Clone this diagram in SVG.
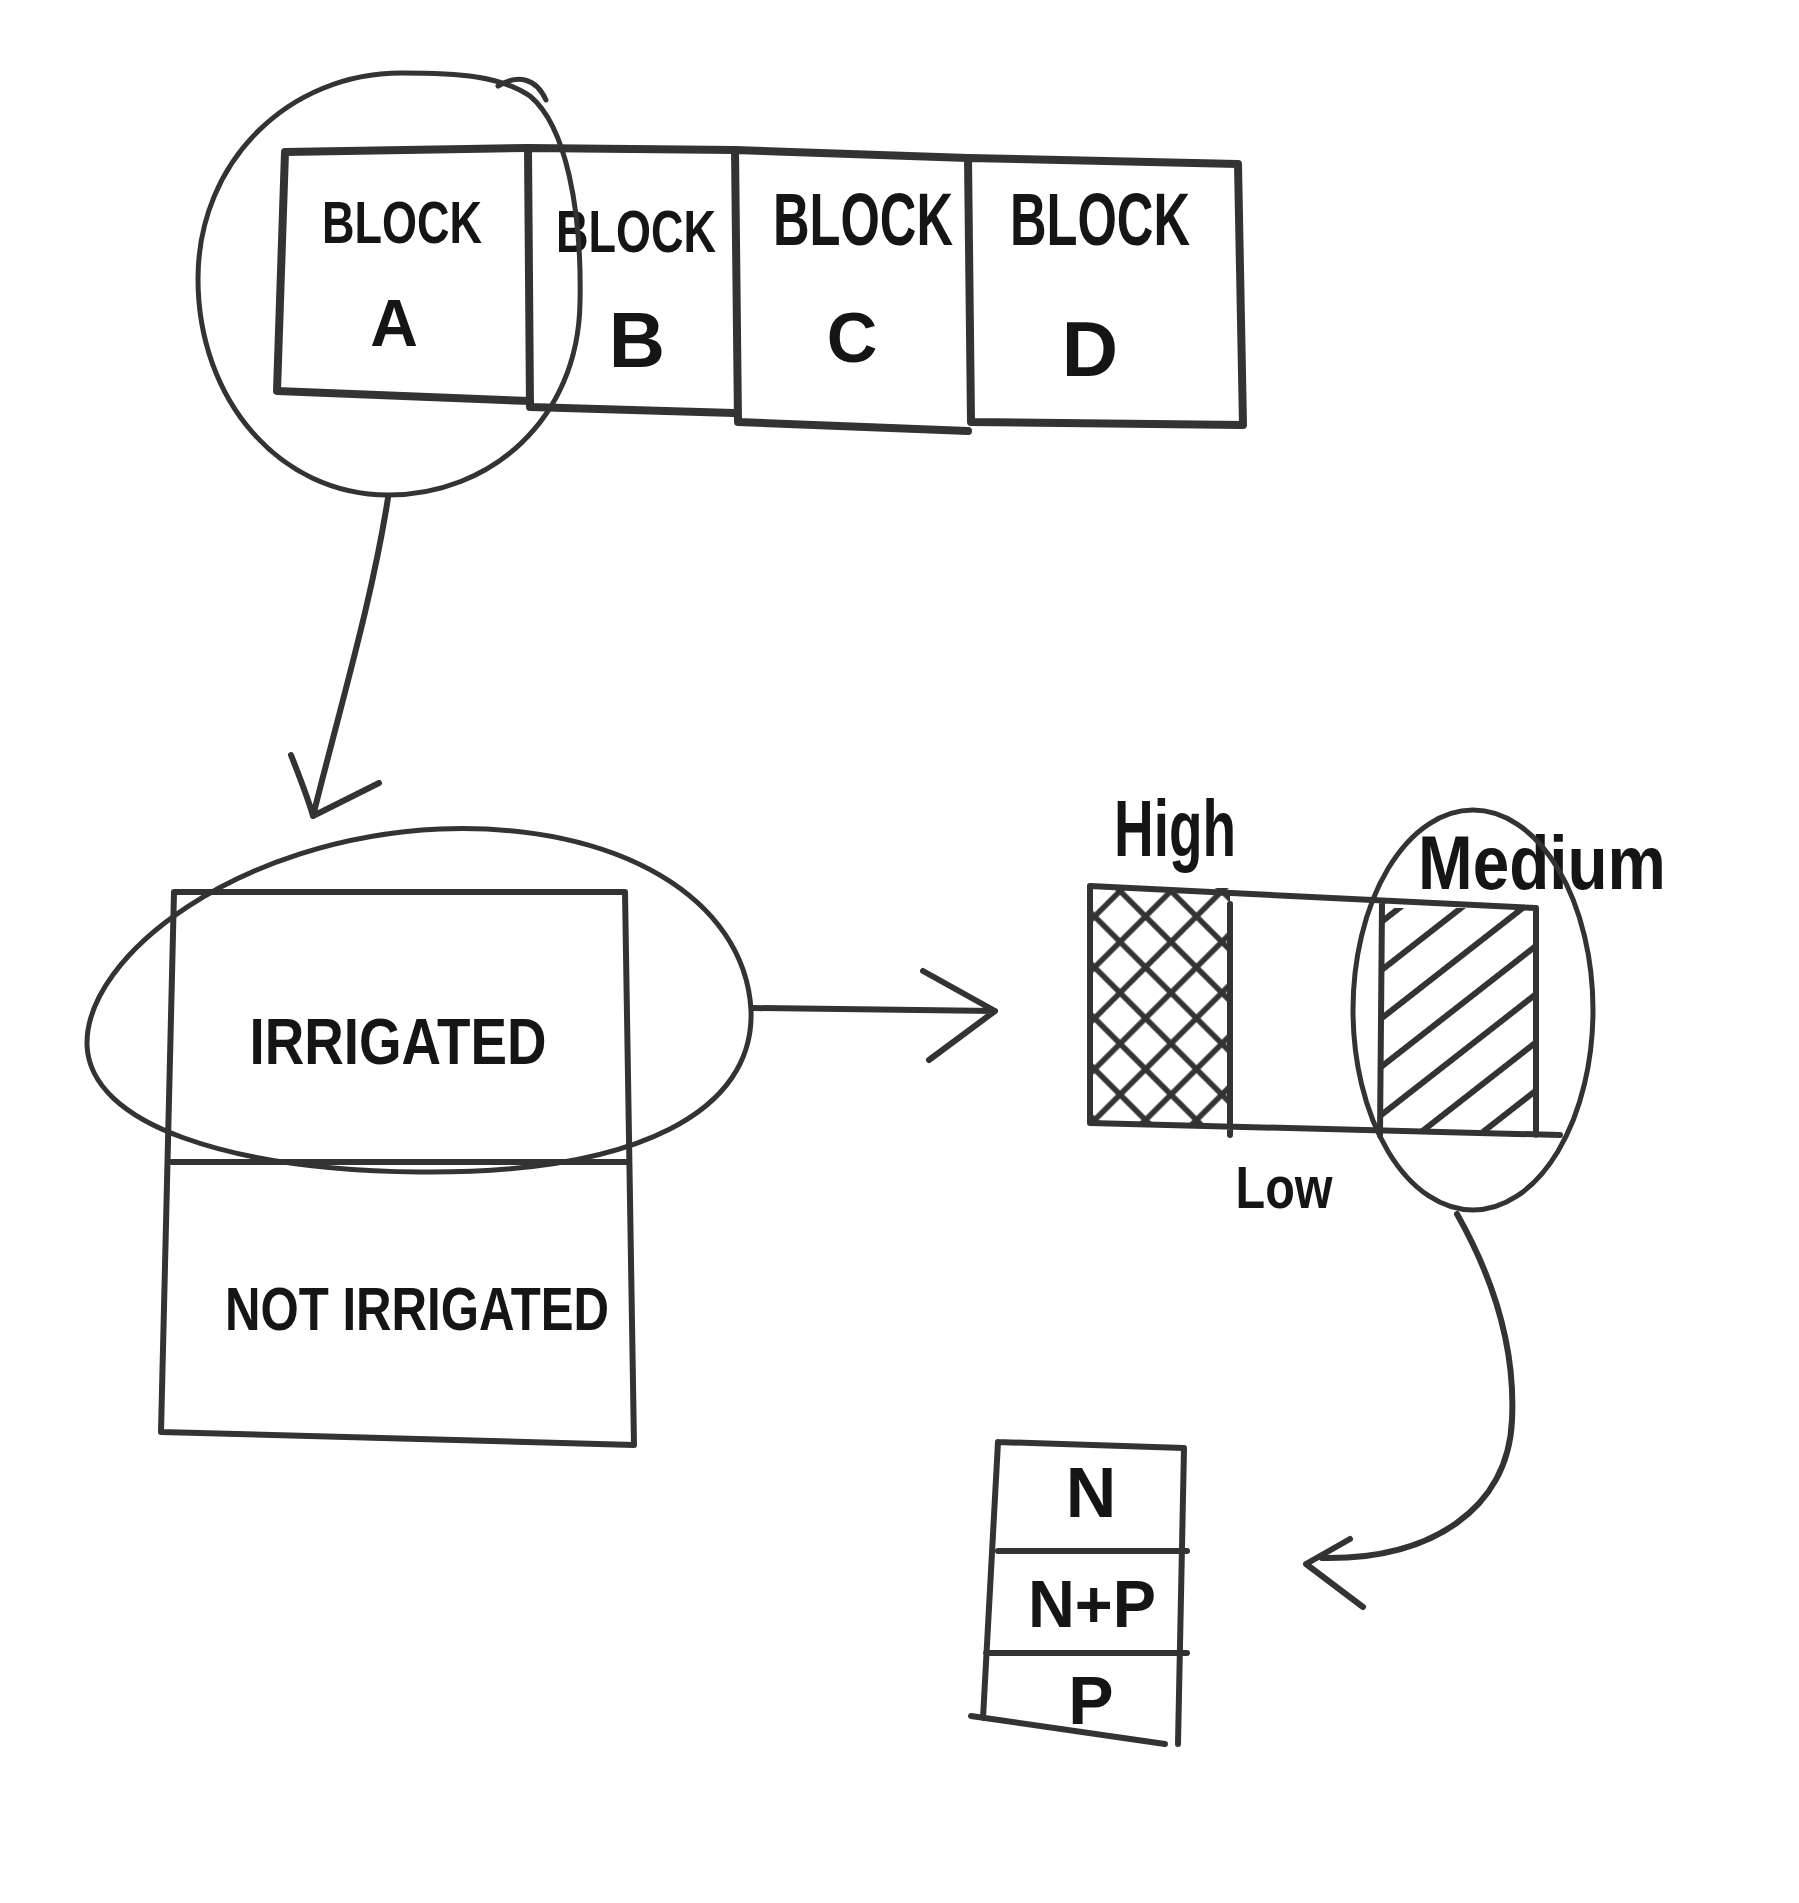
<svg xmlns="http://www.w3.org/2000/svg" width="1799" height="1903" viewBox="0 0 1799 1903">
<style>
.ln{fill:none;stroke:#333;stroke-linecap:round;stroke-linejoin:round}
.thick{stroke-width:8}
.med{stroke-width:6}
.thin{stroke-width:5}
.con{stroke-width:6}
.t{font-family:"Liberation Sans","DejaVu Sans",sans-serif;fill:#151515;text-anchor:middle;font-weight:bold}
</style>
<defs>
<pattern id="cross" width="36" height="36" patternUnits="userSpaceOnUse" patternTransform="rotate(45)">
<path d="M0,18 H36 M18,0 V36" stroke="#333" stroke-width="5.5" fill="none"/>
</pattern>
<pattern id="hatch" width="38" height="38" patternUnits="userSpaceOnUse" patternTransform="rotate(-38)">
<path d="M0,19 H38" stroke="#333" stroke-width="6" fill="none"/>
</pattern>
</defs>
<rect width="1799" height="1903" fill="#ffffff"/>

<g id="block-a">
<path class="ln thick" d="M285,152 L528,148 M285,152 L277,391 L530,401"/>
<text class="t" x="402" y="243" font-size="60" textLength="160" lengthAdjust="spacingAndGlyphs">BLOCK</text>
<text class="t" x="394" y="346" font-size="66">A</text>
</g>
<g id="block-b">
<path class="ln thick" d="M528,148 L735,150 M528,148 L530,407 L734,413"/>
<text class="t" x="636" y="252" font-size="60" textLength="160" lengthAdjust="spacingAndGlyphs">BLOCK</text>
<text class="t" x="637" y="367" font-size="78">B</text>
</g>
<g id="block-c">
<path class="ln thick" d="M735,150 L968,158 M735,150 L738,422 L968,431"/>
<text class="t" x="863" y="245" font-size="74" textLength="180" lengthAdjust="spacingAndGlyphs">BLOCK</text>
<text class="t" x="852" y="362" font-size="70">C</text>
</g>
<g id="block-d">
<path class="ln thick" d="M968,158 L1238,164 L1243,425 L971,422 L968,158"/>
<text class="t" x="1100" y="245" font-size="74" textLength="180" lengthAdjust="spacingAndGlyphs">BLOCK</text>
<text class="t" x="1090" y="376" font-size="78">D</text>
</g>
<g id="focus-a">
<path class="ln thin" d="M198,279 C198,160 290,73 401,73 C460,73 500,76 530,96 C566,126 582,210 580,303 C578,420 490,495 388,495 C280,495 198,400 198,279 Z"/>
<path class="ln thin" d="M498,86 C518,74 536,78 546,100"/>
</g>

<g id="irrigation-plot">
<path class="ln med" d="M174,892 L625,892 L634,1445 L161,1432 Z M172,1162 L627,1162"/>
<text class="t" x="398" y="1064" font-size="64" textLength="297" lengthAdjust="spacingAndGlyphs">IRRIGATED</text>
<text class="t" x="417" y="1330" font-size="62" textLength="384" lengthAdjust="spacingAndGlyphs">NOT IRRIGATED</text>
</g>
<g id="focus-irrigated">
<path class="ln thin" d="M87,1045 C85,955 240,838 440,829 C620,822 745,900 751,1010 C755,1110 640,1174 420,1172 C230,1170 90,1125 87,1045 Z"/>
</g>

<g id="levels">
<rect x="1092" y="888" width="138" height="236" fill="url(#cross)"/>
<rect x="1382" y="908" width="154" height="226" fill="url(#hatch)"/>
<path class="ln med" d="M1090,886 L1536,908 L1536,1135 M1090,886 L1090,1123 L1560,1135 M1230,904 L1230,1135 M1382,904 L1380,1135"/>
<text class="t" x="1175" y="856" font-size="80" textLength="122" lengthAdjust="spacingAndGlyphs">High</text>
<text class="t" x="1542" y="889" font-size="76" textLength="248" lengthAdjust="spacingAndGlyphs">Medium</text>
<text class="t" x="1284" y="1208" font-size="60" textLength="97" lengthAdjust="spacingAndGlyphs">Low</text>
</g>
<g id="focus-medium">
<ellipse class="ln thin" cx="1473" cy="1010" rx="120" ry="200"/>
</g>

<g id="fertiliser">
<path class="ln med" d="M998,1442 L1184,1448 L1178,1744 M998,1442 L983,1718 M971,1716 L1165,1744 M998,1551 L1187,1551 M986,1653 L1187,1653"/>
<text class="t" x="1091" y="1517" font-size="70">N</text>
<text class="t" x="1092" y="1627" font-size="66" textLength="128" lengthAdjust="spacingAndGlyphs">N+P</text>
<text class="t" x="1091" y="1724" font-size="68">P</text>
</g>

<g id="connectors">
<path class="ln con" d="M388,498 C372,600 342,700 313,816 M291,755 C300,778 308,798 313,816 L379,783"/>
<path class="ln con" d="M753,1008 L995,1011 M923,971 L995,1011 L929,1060"/>
<path class="ln con" d="M1457,1214 C1500,1290 1515,1360 1512,1420 C1508,1510 1430,1560 1322,1558 M1350,1539 L1306,1564 L1363,1607"/>
</g>
</svg>
